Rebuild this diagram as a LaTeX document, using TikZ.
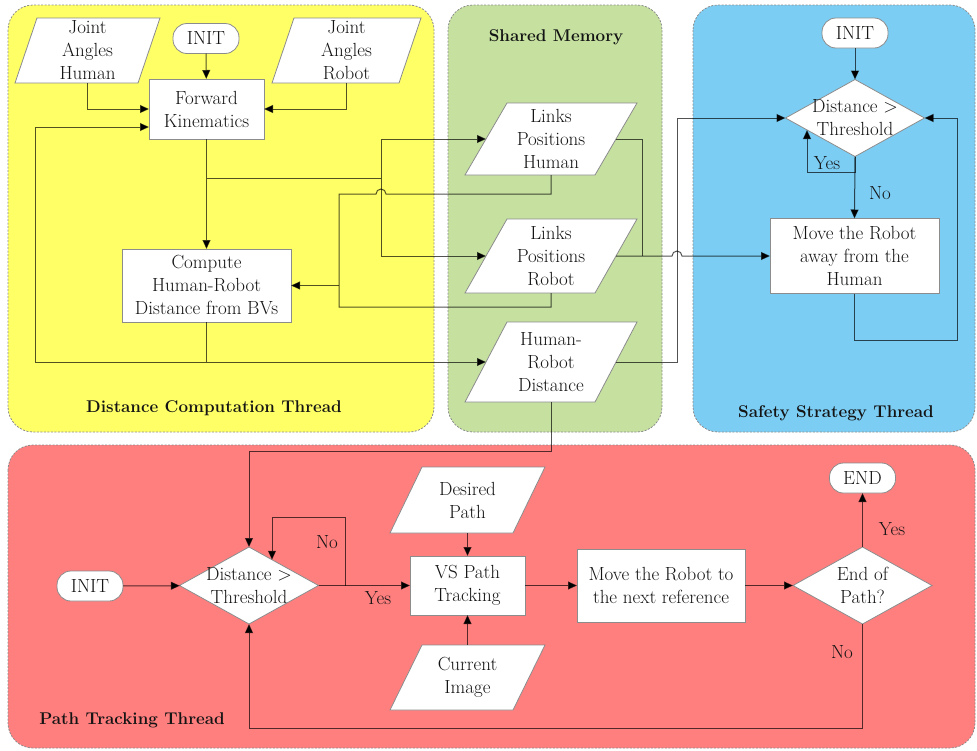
\documentclass[tikz,border=0pt]{standalone}
\usetikzlibrary{arrows.meta,shapes.geometric,calc}

\definecolor{yellowbg}{HTML}{FFFF66}
\definecolor{greenbg}{HTML}{C5E09F}
\definecolor{bluebg}{HTML}{7BCDF4}
\definecolor{redbg}{HTML}{FF7E7E}
\definecolor{ink}{HTML}{141414}
\definecolor{rim}{HTML}{8C8C8C}

\tikzset{
  panel/.style={draw=rim, dash pattern=on 2pt off 1.5pt, line width=0.8pt, rounded corners=25pt},
  txt/.style={align=center, font=\fontsize{19}{23}\selectfont, text=ink, inner sep=0pt, outer sep=0pt},
  lbl/.style={font=\fontsize{17}{20}\selectfont\bfseries, text=ink},
  box/.style={txt, rectangle, draw=rim, fill=white, line width=0.8pt},
  pill/.style={box, rounded corners=14pt, minimum width=66pt, minimum height=30pt},
  dia/.style={diamond, draw=rim, fill=white, line width=0.8pt, inner sep=0pt, outer sep=0pt,
              minimum width=139pt, minimum height=77pt},
  paraline/.style={draw=rim, fill=white, line width=0.8pt},
  wire/.style={draw=black, draw opacity=0.68, line width=1pt},
  arr/.style={wire, -{Triangle[length=9pt,width=8pt]}},
}

% parallelogram data node: name, x, y, total width, height, slant, text
\newcommand\paranode[7]{%
  \path[paraline] ({#2-#4/2},{#3+#5/2}) -- ({#2+#4/2-#6},{#3+#5/2})
     -- ({#2+#4/2},{#3-#5/2}) -- ({#2-#4/2+#6},{#3-#5/2}) -- cycle;
  \node[txt, minimum width={#4-#6}, minimum height=#5] (#1) at (#2,#3) {#7};
}

\begin{document}
\begin{tikzpicture}[x=1pt, y=-1pt]
\useasboundingbox (0,0) rectangle (977,750);

% thread panels
\path[panel, fill=yellowbg] (8,5) rectangle (434,432);
\path[panel, fill=greenbg] (448,5) rectangle (662,432);
\path[panel, fill=bluebg] (693,5) rectangle (975,432);
\path[panel, fill=redbg] (8,445) rectangle (975,748);

\node[lbl] (tdc) at (214,408) {Distance Computation Thread};
\node[lbl] (tsm) at (556,37) {Shared Memory};
\node[lbl] (tss) at (836,413) {Safety Strategy Thread};
\node[lbl] (tpt) at (132,720) {Path Tracking Thread};

% distance computation thread
\node[pill] (init1) at (206,38.5) {INIT};
\paranode{jah}{87.5}{50.5}{145}{65}{22}{Joint\\Angles\\Human}
\paranode{jar}{346.5}{50.5}{149}{65}{22}{Joint\\Angles\\Robot}
\node[box, minimum width=115pt, minimum height=60pt] (fk) at (206.5,109) {Forward\\Kinematics};
\node[box, minimum width=169pt, minimum height=73pt] (cmp) at (206.5,285.5) {Compute\\Human-Robot\\Distance from BVs};

% shared memory
\paranode{lph}{551}{139}{172}{72}{42}{Links\\Positions\\Human}
\paranode{lpr}{551}{256}{172}{74}{42}{Links\\Positions\\Robot}
\paranode{hrd}{551}{362}{172}{80}{42}{Human-\\Robot\\Distance}

% safety strategy thread
\node[pill] (init2) at (855,33) {INIT};
\node[dia] (d1) at (855,118) {};
\node[txt] (d1t) at (d1) {Distance \textgreater\\Threshold};
\node[box, minimum width=169pt, minimum height=75pt] (mv1) at (854.5,256) {Move the Robot\\away from the\\Human};

% path tracking thread
\node[pill] (init3) at (90,586) {INIT};
\node[dia] (d2) at (249,585.5) {};
\node[txt] (d2t) at (d2) {Distance \textgreater\\Threshold};
\node[box, minimum width=115pt, minimum height=59pt] (vs) at (467.5,585.5) {VS Path\\Tracking};
\paranode{dp}{467.5}{500}{155}{66}{32}{Desired\\Path}
\paranode{ci}{467.5}{677.5}{155}{65}{32}{Current\\Image}
\node[box, minimum width=168pt, minimum height=73pt] (mv2) at (661,585.5) {Move the Robot to\\the next reference};
\node[dia] (d3) at (862.5,585.5) {};
\node[txt] (d3t) at (d3) {End of\\Path?};
\node[pill] (end) at (862.5,478) {END};

% --- connectors: distance computation
\draw[arr] (init1) -- (fk);
\draw[arr] (jah.south) |- (fk.west);
\draw[arr] (jar.south) |- (fk.east);
\draw[arr] (fk) -- (cmp);
\coordinate (fork) at (206.5,178);
\coordinate (bus) at (381,178);
\draw[wire] (fork) -- (bus);
\draw[arr] (bus) |- (lph.west);
\draw[arr] (bus) |- (lpr.west);
\coordinate (ret) at (339,194);
\draw[wire] (lph.south) |- (386,194) arc[start angle=0, end angle=-180, radius=5]
  -- (ret) -- (339,307) -| (lpr.south);
\coordinate (cj) at (cmp.east -| ret);
\draw[arr] (cj) -- (cmp.east);
\coordinate (loopc) at (35,362);
\draw[arr] (loopc) |- ($(fk.west)+(0,18)$);
\draw[arr] (loopc) -- (hrd.west);
\draw[wire] (cmp.south) -- (cmp.south |- loopc);

% --- connectors: shared memory to safety strategy
\draw[wire] (lph.east) -| (642,256);
\draw[arr] (lpr.east) -- (672,256) arc[start angle=180, end angle=360, radius=5] -- (mv1.west);
\draw[arr] (hrd.east) -| (677,118) -- (d1.west);

% --- connectors: safety strategy
\draw[arr] (init2) -- (d1);
\draw[arr] (d1.south) -- (mv1.north);
\draw[arr] (d1.south) -- ++(0,16) -| ($(d1.center)+(-48,12)$);
\draw[arr] (mv1.south) -- ++(0,47) -| ($(d1.east)+(33,0)$) -- (d1.east);
\node[txt] (yes1) at (827,163) {Yes};
\node[txt] (no1) at (880,193) {No};

% --- connectors: path tracking
\draw[arr] (hrd.south) -- ++(0,49) -| (d2.north);
\draw[arr] (init3) -- (d2);
\draw[arr] (d2.east) -- (vs.west);
\coordinate (nj) at (345,585.5);
\draw[arr] (nj) |- (272,517) -- ($(d2.center)+(23,-25.7)$);
\draw[arr] (dp) -- (vs);
\draw[arr] (ci) -- (vs);
\draw[arr] (vs) -- (mv2);
\draw[arr] (mv2) -- (d3);
\draw[arr] (d3) -- (end);
\draw[arr] (d3.south) -- ++(0,104) -| (d2.south);
\node[txt] (no2) at (327,542) {No};
\node[txt] (yes2) at (378,598) {Yes};
\node[txt] (yes3) at (892,529) {Yes};
\node[txt] (no3) at (842,652) {No};
\end{tikzpicture}
\end{document}
